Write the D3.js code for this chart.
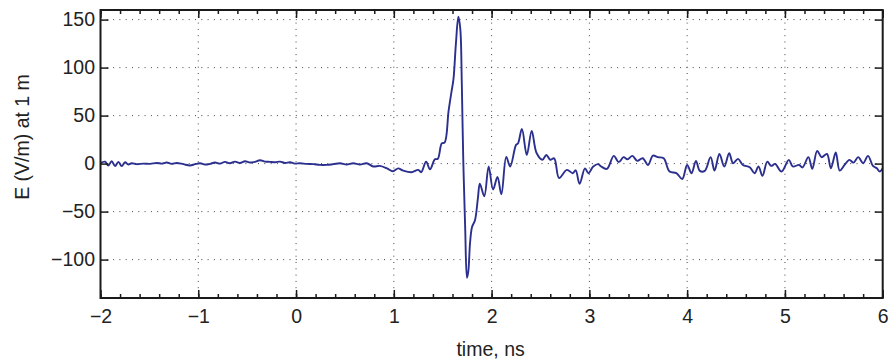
<!DOCTYPE html>
<html>
<head>
<meta charset="utf-8">
<script src="https://cdn.jsdelivr.net/npm/d3@7"></script>
<style>
  body { margin: 0; background: #fff; }
  svg { display: block; font-family: "Liberation Sans", Arial, sans-serif; }
  .axis path { display: none; }
  .axis line { stroke: #1a1a1a; stroke-width: 1.5; }
  .axis text { fill: #222; font-size: 19.5px; }
</style>
</head>
<body>
<div id="chart"></div>
<script>
// pulse waveform (time in ns, field in V/m)
const timeNs = [
  -2, -1.954, -1.92, -1.886, -1.851, -1.817, -1.783, -1.749, -1.715, -1.681,
  -1.63, -1.562, -1.494, -1.425, -1.374, -1.323, -1.272, -1.221, -1.153, -1.085,
  -1.033, -0.982, -0.931, -0.88, -0.829, -0.778, -0.727, -0.676, -0.624, -0.573,
  -0.522, -0.471, -0.42, -0.369, -0.318, -0.267, -0.215, -0.164, -0.113, -0.062,
  -0.011, 0.04, 0.108, 0.176, 0.245, 0.313, 0.381, 0.449, 0.517, 0.585,
  0.654, 0.722, 0.79, 0.858, 0.93, 0.99, 1.045, 1.09, 1.18, 1.25,
  1.28, 1.33, 1.37, 1.42, 1.45, 1.49, 1.52, 1.56, 1.59, 1.61,
  1.635, 1.66, 1.68, 1.695, 1.71, 1.73, 1.748, 1.762, 1.78, 1.8,
  1.83, 1.86, 1.88, 1.925, 1.97, 2.015, 2.06, 2.1, 2.15, 2.19,
  2.25, 2.27, 2.31, 2.36, 2.41, 2.46, 2.52, 2.56, 2.6, 2.64,
  2.69, 2.77, 2.83, 2.86, 2.9, 2.955, 2.99, 3.04, 3.09, 3.12,
  3.18, 3.25, 3.3, 3.35, 3.39, 3.44, 3.49, 3.545, 3.6, 3.65,
  3.7, 3.76, 3.82, 3.89, 3.95, 4.0, 4.045, 4.09, 4.13, 4.18,
  4.24, 4.28, 4.33, 4.38, 4.43, 4.47, 4.52, 4.57, 4.64, 4.69,
  4.73, 4.77, 4.82, 4.86, 4.9, 4.965, 5.04, 5.08, 5.145, 5.18,
  5.24, 5.28, 5.33, 5.375, 5.43, 5.47, 5.52, 5.56, 5.61, 5.66,
  5.7, 5.75, 5.8, 5.85, 5.9, 5.94, 5.97, 6.0
];
const fieldVm = [
  0.5, 2, -2, 2.5, -2.5, 1.8, -2.6, 1.4, -1, 0.4,
  -0.6, 0, -0.3, 0.7, 0, 1.1, -0.3, 0.7, -0.6, -2,
  -0.6, 0.4, -1, -0.3, 1.1, 0, 1.8, 0.4, 2.1, 0.7,
  2.5, 1.1, 1.8, 3.5, 2.1, 1.8, 1.4, 2.1, 0.7, 1.4,
  0, 0.4, -0.3, -0.6, -1.3, -1.3, -0.6, 0.4, -1, 0.4,
  -1, 0.4, -3, -2.4, -5, -8, -5, -7, -9, -6.5,
  -9, 2, -6, 4.5, 5, 21, 22, 55, 75, 88,
  125, 153, 140, 85, 5, -68, -119, -112, -82, -66,
  -59, -36, -21, -34, -3, -27, -14, -32, 7, -3,
  19.5, 21, 36, 9, 34, 11, 4, 9, 4, 5.5,
  -15, -6.5, -10, -7, -21, -5, -10, -3, -0.6, -3,
  -5.5, 8, 1.5, 6.7, 4.5, 8, 2.8, 5.6, -1.4, 8.3,
  6.7, 5.6, -8.3, -10, -16, -1.4, -10, 2.8, -7.6, -7.6,
  6.7, -7.3, 10, -3, 10.8, 0.4, 4.9, -1.4, -3.8, -10,
  -3, -12.8, 2, -2.4, -0.3, -8.3, 3.9, -3, -1.4, -4,
  6.7, -5.5, 13.2, 6.7, 10, -4.9, 11.5, -7.3, -1.4, 3.9,
  1, 6.7, 0.4, 8, -2.4, -4.9, -8.3, -4.9
];
const xTickValues = [-2, -1, 0, 1, 2, 3, 4, 5, 6];
const xMinorTickValues = d3.range(-2, 6.001, 0.2);
const yTickValues = [-100, -50, 0, 50, 100, 150];

const width = 891, height = 361;
const plot = { left: 100.5, right: 882.7, top: 10, bottom: 298 };

const svg = d3.select('#chart').append('svg')
  .attr('width', width)
  .attr('height', height);

const x = d3.scaleLinear().domain([-2, 6]).range([plot.left, plot.right]);
const y = d3.scaleLinear().domain([-140, 160]).range([plot.bottom, plot.top]);

// dotted grid at the major ticks
const grid = svg.append('g')
  .attr('stroke', '#444')
  .attr('stroke-width', 1)
  .attr('stroke-dasharray', '1,5.3');

grid.selectAll('.vgrid').data(xTickValues.slice(1, -1)).join('line')
  .attr('x1', d => x(d)).attr('x2', d => x(d))
  .attr('y1', plot.top).attr('y2', plot.bottom);

grid.selectAll('.hgrid').data(yTickValues).join('line')
  .attr('x1', plot.left).attr('x2', plot.right)
  .attr('y1', d => y(d)).attr('y2', d => y(d));

// waveform
svg.append('clipPath').attr('id', 'clip')
  .append('rect')
  .attr('x', plot.left).attr('y', plot.top)
  .attr('width', plot.right - plot.left)
  .attr('height', plot.bottom - plot.top);

const line = d3.line()
  .x((d, i) => x(timeNs[i]))
  .y(d => y(d))
  .curve(d3.curveCatmullRom.alpha(0.5));

svg.append('path')
  .datum(fieldVm)
  .attr('clip-path', 'url(#clip)')
  .attr('fill', 'none')
  .attr('stroke', '#2b2f8e')
  .attr('stroke-width', 1.9)
  .attr('stroke-linejoin', 'round')
  .attr('d', line);

// inward ticks, all four sides
svg.append('g').attr('class', 'axis')
  .attr('transform', `translate(0,${plot.bottom})`)
  .call(d3.axisBottom(x).tickValues(xMinorTickValues).tickSize(-4).tickFormat(''));
svg.append('g').attr('class', 'axis')
  .attr('transform', `translate(0,${plot.top})`)
  .call(d3.axisTop(x).tickValues(xMinorTickValues).tickSize(-4).tickFormat(''));

svg.append('g').attr('class', 'axis')
  .attr('transform', `translate(0,${plot.bottom})`)
  .call(d3.axisBottom(x).tickValues(xTickValues).tickSize(-8).tickPadding(11.5));
svg.append('g').attr('class', 'axis')
  .attr('transform', `translate(0,${plot.top})`)
  .call(d3.axisTop(x).tickValues(xTickValues).tickSize(-8).tickFormat(''));

svg.append('g').attr('class', 'axis')
  .attr('transform', `translate(${plot.left},0)`)
  .call(d3.axisLeft(y).tickValues(yTickValues).tickSize(-8).tickPadding(5.5));
svg.append('g').attr('class', 'axis')
  .attr('transform', `translate(${plot.right},0)`)
  .call(d3.axisRight(y).tickValues(yTickValues).tickSize(-8).tickFormat(''));

// frame
svg.append('rect')
  .attr('x', plot.left).attr('y', plot.top)
  .attr('width', plot.right - plot.left)
  .attr('height', plot.bottom - plot.top)
  .attr('fill', 'none')
  .attr('stroke', '#1a1a1a')
  .attr('stroke-width', 2);

// axis titles
svg.append('text')
  .attr('x', (plot.left + plot.right) / 2 - 1)
  .attr('y', 355.5)
  .attr('text-anchor', 'middle')
  .attr('fill', '#222')
  .style('font-size', '19.5px')
  .text('time, ns');

svg.append('text')
  .attr('transform', 'translate(22,137) rotate(-90)')
  .attr('text-anchor', 'middle')
  .attr('dominant-baseline', 'central')
  .attr('fill', '#222')
  .style('font-size', '19.5px')
  .text('E (V/m) at 1 m');
</script>
</body>
</html>
